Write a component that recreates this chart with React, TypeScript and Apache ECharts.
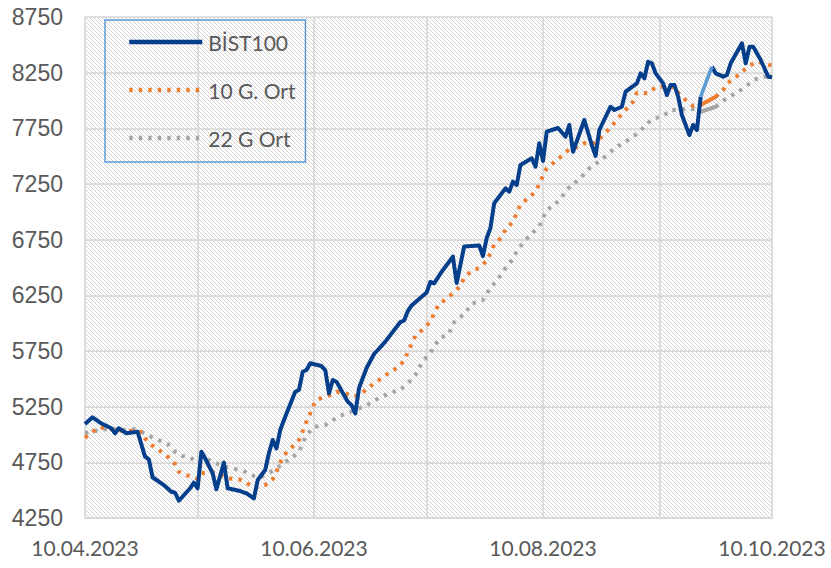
import React, { useEffect, useRef } from "react";
import * as echarts from "echarts";

const YEAR = 2023;

// BİST100 (dark blue, solid)
const bistDates = [
  "04-10", "04-12", "04-14", "04-17", "04-18", "04-19", "04-21", "04-24", "04-26", "04-27",
  "04-28", "05-01", "05-03", "05-04", "05-05", "05-08", "05-09", "05-10", "05-11", "05-12",
  "05-14", "05-15", "05-17", "05-18", "05-21", "05-23", "05-25", "05-26", "05-28", "05-29",
  "05-30", "05-31", "06-01", "06-02", "06-05", "06-06", "06-07", "06-08", "06-09", "06-12",
  "06-13", "06-14", "06-15", "06-16", "06-19", "06-20", "06-21", "06-22", "06-24", "06-26",
  "06-27", "06-29", "07-03", "07-04", "07-05", "07-06", "07-10", "07-11", "07-12", "07-14",
  "07-17", "07-18", "07-20", "07-24", "07-25", "07-26", "07-27", "07-28", "07-31", "08-01",
  "08-02", "08-03", "08-04", "08-07", "08-08", "08-09", "08-10", "08-11", "08-14", "08-16",
  "08-17", "08-18", "08-21", "08-23", "08-24", "08-25", "08-28", "08-29", "08-31", "09-01",
  "09-04", "09-05", "09-06", "09-07", "09-08", "09-09", "09-11", "09-12", "09-13", "09-14",
  "09-15", "09-16", "09-18", "09-19", "09-20", "09-21", "09-22", "09-24", "09-25", "09-27",
  "09-28", "09-29", "10-02", "10-03", "10-04", "10-05", "10-07", "10-09", "10-10",
];
const bistValues: (number | null)[] = [
  5094, 5155, 5106, 5056, 5011, 5056, 5011, 5025, 4801, 4777,
  4616, 4546, 4486, 4477, 4405, 4517, 4567, 4517, 4845, 4786,
  4652, 4508, 4747, 4517, 4495, 4472, 4427, 4591, 4681, 4834,
  4951, 4876, 5040, 5130, 5384, 5400, 5564, 5579, 5640, 5615,
  5579, 5370, 5490, 5474, 5295, 5265, 5190, 5418, 5597, 5723,
  5759, 5834, 6010, 6024, 6109, 6159, 6275, 6370, 6358, 6462,
  6597, 6361, 6689, 6698, 6603, 6765, 6855, 7077, 7211, 7181,
  7271, 7241, 7421, 7481, 7405, 7616, 7457, 7720, 7753, 7675,
  7780, 7540, 7825, 7600, 7502, 7735, 7944, 7915, 7944, 8079,
  8154, 8244, 8199, 8348, 8334, 8244, 8154, 8049, 8139, 8139,
  8034, 7870, 7690, 7780, 7735, 8034, null, 8304, 8244, 8214,
  8229, 8334, 8514, 8334, 8483, 8483, 8364, 8214, 8208,
];
// light blue linking segment of BİST100
const bistLinkDates = ["09-21", "09-24"];
const bistLinkValues = [8034, 8304];

// 10 G. Ort (orange, dotted)
const ort10Dates = [
  "04-10", "04-12", "04-14", "04-17", "04-20", "04-22", "04-25", "04-26", "04-28", "04-30",
  "05-02", "05-04", "05-05", "05-07", "05-10", "05-11", "05-14", "05-16", "05-18", "05-21",
  "05-23", "05-25", "05-28", "05-30", "05-31", "06-01", "06-02", "06-04", "06-06", "06-07",
  "06-08", "06-09", "06-10", "06-11", "06-14", "06-16", "06-18", "06-20", "06-22", "06-24",
  "06-26", "06-28", "06-30", "07-02", "07-04", "07-05", "07-06", "07-07", "07-09", "07-11",
  "07-12", "07-13", "07-15", "07-17", "07-19", "07-20", "07-22", "07-24", "07-26", "07-27",
  "07-28", "07-30", "07-31", "08-02", "08-03", "08-04", "08-06", "08-08", "08-09", "08-10",
  "08-11", "08-13", "08-15", "08-17", "08-19", "08-21", "08-24", "08-26", "08-28", "08-30",
  "09-01", "09-03", "09-04", "09-07", "09-09", "09-11", "09-14", "09-15", "09-17", "09-19",
  "09-21", "09-22", "09-25", "09-27", "09-28", "09-30", "10-02", "10-04", "10-06", "10-09",
  "10-10",
];
const ort10Values: (number | null)[] = [
  4971, 5025, 5065, 5047, 5034, 5034, 5020, 4966, 4899, 4852,
  4801, 4735, 4666, 4636, 4600, 4652, 4657, 4636, 4607, 4598,
  4567, 4520, 4546, 4598, 4666, 4747, 4816, 4881, 4951, 5031,
  5115, 5190, 5272, 5316, 5350, 5384, 5375, 5344, 5352, 5406,
  5460, 5505, 5555, 5595, 5660, 5741, 5813, 5885, 5945, 6013,
  6089, 6154, 6214, 6268, 6334, 6407, 6469, 6496, 6561, 6628,
  6707, 6772, 6840, 6911, 6990, 7066, 7122, 7181, 7248, 7326,
  7391, 7446, 7502, 7564, 7580, 7616, 7616, 7690, 7756, 7840,
  7915, 7989, 8070, 8065, 8119, 8124, 8119, 8070, 8004, 7951,
  7960, null, 8034, 8094, 8154, 8199, 8259, 8310, 8350, 8323,
  8310,
];
const ort10LinkDates = ["09-21", "09-25"];
const ort10LinkValues = [7960, 8034];

// 22 G Ort (gray, dotted)
const ort22Dates = [
  "04-10", "04-13", "04-15", "04-18", "04-20", "04-23", "04-25", "04-28", "04-30", "05-02",
  "05-04", "05-06", "05-08", "05-10", "05-13", "05-15", "05-17", "05-20", "05-22", "05-25",
  "05-27", "05-29", "05-31", "06-02", "06-04", "06-06", "06-08", "06-10", "06-13", "06-15",
  "06-17", "06-19", "06-21", "06-24", "06-26", "06-28", "06-30", "07-03", "07-05", "07-07",
  "07-09", "07-11", "07-12", "07-14", "07-16", "07-17", "07-19", "07-21", "07-22", "07-25",
  "07-27", "07-29", "07-31", "08-02", "08-03", "08-05", "08-07", "08-09", "08-10", "08-11",
  "08-13", "08-15", "08-16", "08-18", "08-20", "08-22", "08-24", "08-26", "08-28", "08-30",
  "09-01", "09-04", "09-06", "09-08", "09-11", "09-13", "09-15", "09-18", "09-20", "09-21",
  "09-22", "09-25", "09-27", "09-29", "10-01", "10-03", "10-05", "10-08", "10-10",
];
const ort22Values: (number | null)[] = [
  5011, 5034, 5047, 5047, 5040, 5047, 5025, 4975, 4944, 4915,
  4845, 4807, 4795, 4741, 4771, 4741, 4711, 4690, 4675, 4627,
  4621, 4654, 4696, 4747, 4786, 4845, 4996, 5067, 5085, 5128,
  5169, 5193, 5220, 5260, 5305, 5337, 5370, 5402, 5460, 5534,
  5663, 5726, 5798, 5873, 5905, 5997, 6053, 6125, 6175, 6208,
  6318, 6394, 6496, 6576, 6646, 6735, 6804, 6870, 6946, 7016,
  7061, 7127, 7190, 7250, 7301, 7382, 7430, 7481, 7540, 7591,
  7630, 7699, 7765, 7831, 7861, 7915, 7915, 7930, 7915, 7899,
  null, 7944, 7998, 8040, 8079, 8124, 8184, 8211, 8238,
];
const ort22LinkDates = ["09-21", "09-25"];
const ort22LinkValues = [7899, 7944];

// axes
const xStart = "04-10";
const xEnd = "10-10";
const xGridDates = ["04-10", "05-10", "06-10", "07-10", "08-10", "09-10", "10-10"];
const xLabelDates = ["04-10", "06-10", "08-10", "10-10"];
const yMin = 4250;
const yMax = 8750;
const yStep = 500;

const seriesNames = ["BİST100", "10 G. Ort", "22 G Ort"];

function toTime(md: string): number {
  const [m, d] = md.split("-").map(Number);
  return new Date(YEAR, m - 1, d).getTime();
}
function pairs(dates: string[], values: (number | null)[]) {
  return dates.map((d, i) => [toTime(d), values[i] == null ? "-" : values[i]]);
}
function fmtDate(v: number): string {
  const dt = new Date(v);
  const dd = String(dt.getDate()).padStart(2, "0");
  const mm = String(dt.getMonth() + 1).padStart(2, "0");
  return `${dd}.${mm}.${dt.getFullYear()}`;
}
function makeHatch() {
  const c = document.createElement("canvas");
  c.width = 4;
  c.height = 4;
  const g = c.getContext("2d")!;
  g.fillStyle = "#ffffff";
  g.fillRect(0, 0, 4, 4);
  g.fillStyle = "#d3d3d3";
  for (let i = 0; i < 4; i++) g.fillRect(i, i, 1, 1);
  return c;
}

const BLUE = "#053F8C";
const LIGHT_BLUE = "#5B9BD5";
const ORANGE = "#ED7D31";
const GRAY = "#A5A5A5";
const TEXT = "#595959";
const GRID = "#d9d9d9";
const LATIN = "Lato, 'Open Sans', sans-serif";

export default function App() {
  const ref = useRef<HTMLDivElement>(null);
  useEffect(() => {
    document.body.style.margin = "0";
    if (!ref.current) return;
    const chart = echarts.init(ref.current, undefined, { renderer: "svg" });
    const dotted = { type: [3.4, 6.1] as number[], cap: "butt" as const, width: 4 };
    chart.setOption({
      animation: false,
      backgroundColor: "#ffffff",
      grid: {
        left: 85,
        right: 59,
        top: 17,
        bottom: 50,
        show: true,
        borderWidth: 0,
        backgroundColor: { image: makeHatch(), repeat: "repeat", imageWidth: 4, imageHeight: 4 },
      },
      legend: {
        data: seriesNames,
        orient: "vertical",
        left: 105,
        top: 20,
        borderColor: LIGHT_BLUE,
        borderWidth: 1.5,
        padding: [10, 10, 12, 22],
        itemWidth: 73,
        itemHeight: 14,
        itemGap: 24,
        itemStyle: { opacity: 0 },
        lineStyle: { width: 4.5 },
        textStyle: { fontFamily: LATIN, fontSize: 21, color: TEXT, lineHeight: 24, padding: [0, 0, 0, 1] },
      },
      xAxis: {
        type: "value",
        min: toTime(xStart),
        max: toTime(xEnd),
        axisLine: { show: true, lineStyle: { color: GRID, width: 1.75 } },
        axisTick: { show: false, customValues: xGridDates.map(toTime) },
        splitLine: { show: true, lineStyle: { color: GRID, width: 1.75 } },
        axisLabel: {
          customValues: xLabelDates.map(toTime),
          formatter: (v: number) => fmtDate(v),
          fontFamily: LATIN,
          fontSize: 21,
          color: TEXT,
          margin: 19,
          hideOverlap: false,
          showMinLabel: true,
          showMaxLabel: true,
        },
      },
      yAxis: {
        type: "value",
        min: yMin,
        max: yMax,
        interval: yStep,
        axisLine: { show: false },
        axisTick: { show: false },
        splitLine: { show: true, lineStyle: { color: GRID, width: 1.75 } },
        axisLabel: {
          formatter: (v: number) => String(v),
          fontFamily: "'Liberation Sans', Arial, sans-serif",
          fontSize: 23,
          color: TEXT,
          margin: 22,
        },
      },
      series: [
        {
          name: seriesNames[2],
          type: "line",
          data: pairs(ort22Dates, ort22Values),
          symbol: "none",
          lineStyle: { ...dotted, color: GRAY },
          itemStyle: { color: GRAY },
          z: 2,
        },
        {
          name: seriesNames[1],
          type: "line",
          data: pairs(ort10Dates, ort10Values),
          symbol: "none",
          lineStyle: { ...dotted, color: ORANGE },
          itemStyle: { color: ORANGE },
          z: 3,
        },
        {
          name: seriesNames[0],
          type: "line",
          data: pairs(bistDates, bistValues),
          symbol: "none",
          lineStyle: { width: 4, color: BLUE, join: "round" },
          itemStyle: { color: BLUE },
          z: 4,
        },
        {
          name: "22 link",
          type: "line",
          data: pairs(ort22LinkDates, ort22LinkValues),
          symbol: "none",
          lineStyle: { width: 4, color: GRAY, cap: "round" },
          z: 2,
        },
        {
          name: "10 link",
          type: "line",
          data: pairs(ort10LinkDates, ort10LinkValues),
          symbol: "none",
          lineStyle: { width: 4, color: ORANGE, cap: "round" },
          z: 3,
        },
        {
          name: "BIST link",
          type: "line",
          data: pairs(bistLinkDates, bistLinkValues),
          symbol: "none",
          lineStyle: { width: 3.6, color: LIGHT_BLUE },
          z: 4,
        },
      ],
    });
    return () => chart.dispose();
  }, []);
  return (
    <div
      ref={ref}
      style={{ position: "absolute", left: 0, top: 0, width: 831, height: 568 }}
    />
  );
}
